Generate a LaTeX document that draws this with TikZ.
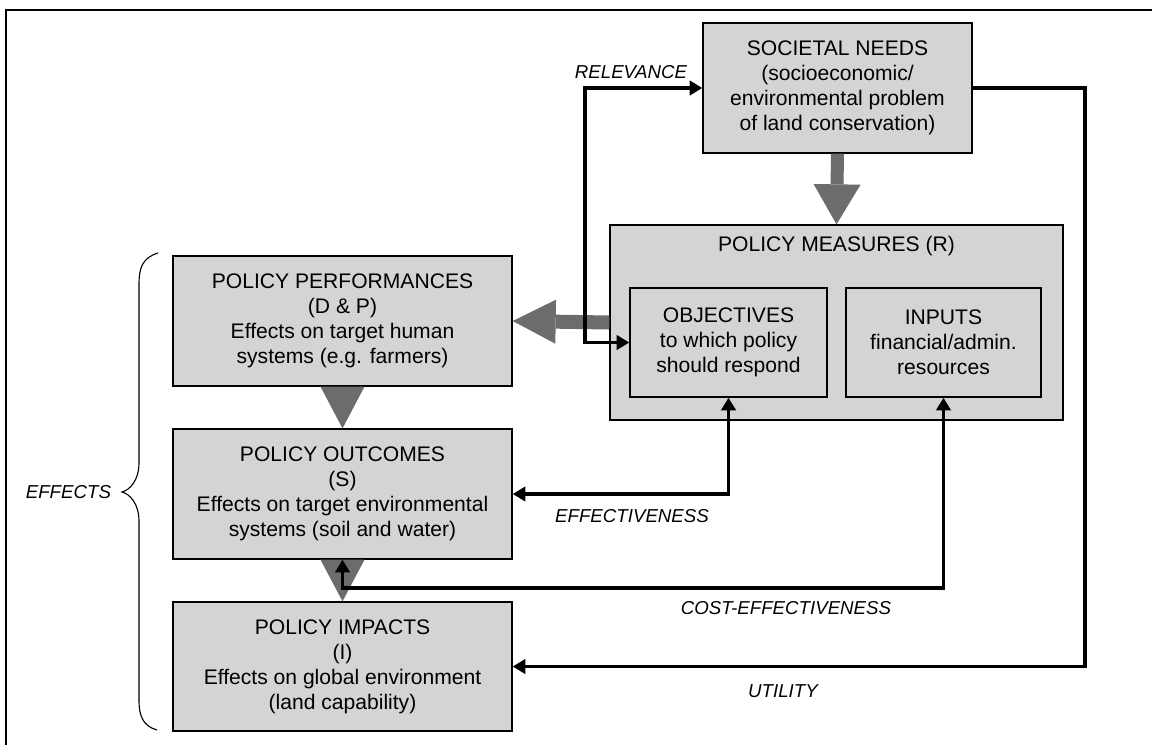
\documentclass[tikz,border=0pt]{standalone}
\usepackage{fontspec}
\setmainfont{Liberation Sans}
\usetikzlibrary{arrows.meta}
\definecolor{boxgray}{RGB}{212,212,212}
\definecolor{fatgray}{RGB}{108,108,108}

\begin{document}
\begin{tikzpicture}[x=0.025cm,y=-0.025cm,
    box/.style={draw,line width=0.9pt,fill=boxgray,align=center,inner sep=0pt,
      font=\fontsize{15}{17.7}\selectfont},
    tag/.style={font=\fontsize{13.3}{15}\selectfont\itshape},
    link/.style={line width=2.8pt},
    fat/.style={draw=fatgray,-{Triangle[length=#1,line width=0pt,fill=fatgray]}},
    >={Triangle[length=0.32cm,width=0.36cm]}]
  \useasboundingbox (0,0) rectangle (1152,745);
  \draw [line width=1pt] (1152,10) -- (6,10) -- (6,745);

  % boxes
  \node[box,minimum width=6.725cm,minimum height=3.25cm] (needs) at (837.5,88)
    {SOCIETAL NEEDS\\(socioeconomic/\\environmental problem\\of land conservation)};
  \node[box,minimum width=11.325cm,minimum height=4.875cm,
    label={[anchor=center,yshift=-0.55cm,font=\fontsize{15}{17.7}\selectfont]north:POLICY MEASURES (R)}]
    (measures) at (836.5,322.5) {};
  \node[box,minimum width=4.925cm,minimum height=2.725cm] (objectives) at (728.5,342.5)
    {OBJECTIVES\\to which policy\\should respond};
  \node[box,minimum width=4.875cm,minimum height=2.725cm] (inputs) at (943.5,342.5)
    {INPUTS\\financial/admin.\\resources};
  \node[box,minimum width=8.475cm,minimum height=3.25cm] (perf) at (342.5,321)
    {POLICY PERFORMANCES\\(D \& P)\\Effects on target human\\systems (e.g. farmers)};
  \node[box,minimum width=8.475cm,minimum height=3.25cm] (outcomes) at (342.5,494)
    {POLICY OUTCOMES\\(S)\\Effects on target environmental\\systems (soil and water)};
  \node[box,minimum width=8.475cm,minimum height=3.225cm] (impacts) at (342.5,666.5)
    {POLICY IMPACTS\\(I)\\Effects on global environment\\(land capability)};

  % grey flows
  \draw [fat={1cm,width=1.175cm},line width=0.325cm] (needs.south) -- (measures.north);
  \draw [fat={1.075cm,width=1.1cm},line width=0.35cm] (measures.west) -- (perf.east);
  \fill [fatgray] ([xshift=-0.55cm]perf.south) -- ([xshift=0.55cm]perf.south) -- (outcomes.north) -- cycle;
  \fill [fatgray] ([xshift=-0.55cm]outcomes.south) -- ([xshift=0.55cm]outcomes.south) -- (impacts.north) -- cycle;

  % evaluation links
  \draw [link,<->] (needs.west) -- ++(-117,0) |- (objectives.west);
  \draw [link,->] (needs.east) -- ++(112,0) |- (impacts.east);
  \draw [link,<->] (objectives.south) |- (outcomes.east);
  \draw [link,<->] (inputs.south) -- ++(0,190) -| (outcomes.south);

  \node[tag] (relevance) at (631,72) {RELEVANCE};
  \node[tag] (effectiveness) at (632,516) {EFFECTIVENESS};
  \node[tag] (costeff) at (786,608) {COST-EFFECTIVENESS};
  \node[tag] (utility) at (783,691) {UTILITY};

  % effects brace
  \draw [line width=0.8pt] (158,253) .. controls (142,258) and (139,268) .. (139,285)
    -- (139,463) .. controls (139,480) and (130,490) .. (122,492)
    .. controls (130,494) and (139,504) .. (139,521)
    -- (139,700) .. controls (139,716) and (143,726) .. (157,730);
  \node[tag,anchor=east] (effects) at (116,492) {EFFECTS};
\end{tikzpicture}
\end{document}
